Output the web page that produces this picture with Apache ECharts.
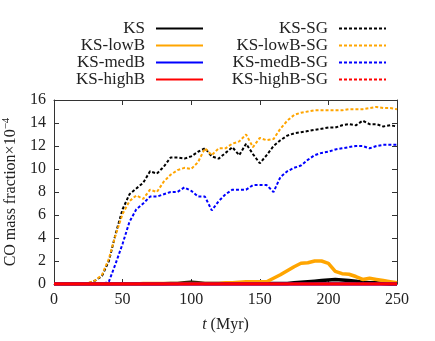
<!DOCTYPE html>
<html>
<head>
<meta charset="utf-8">
<script src="https://cdn.jsdelivr.net/npm/echarts@6/dist/echarts.min.js"></script>
<style>
  html, body { margin: 0; padding: 0; background: #fff; }
  #chart { width: 435px; height: 341px; }
</style>
</head>
<body>
<div id="chart"></div>
<script>
// time axis, Myr (every 5 Myr)
const times = [0,5,10,15,20,25,30,35,40,45,50,55,60,65,70,75,80,85,90,95,100,105,110,115,120,125,130,135,140,145,150,155,160,165,170,175,180,185,190,195,200,205,210,215,220,225,230,235,240,245,250];

const ks = [0,0,0,0,0,0,0,0,0,0.02,0.02,0.02,0.02,0.02,0.02,0.03,0.03,0.05,0.05,0.1,0.15,0.1,0.05,0.05,0.05,0.05,0.05,0.05,0.05,0.05,0.05,0.05,0.05,0.05,0.05,0.1,0.15,0.2,0.25,0.3,0.35,0.4,0.35,0.3,0.25,0.15,0.1,0.1,0.05,0,0];
const ksLowB = [0,0,0,0,0,0,0,0,0,0,0,0,0,0.05,0.05,0.05,0.05,0.05,0.05,0.05,0.05,0.05,0.05,0.05,0.05,0.1,0.1,0.15,0.2,0.2,0.2,0.2,0.5,0.8,1.15,1.5,1.8,1.85,2.0,2.0,1.8,1.1,0.9,0.85,0.65,0.4,0.5,0.4,0.3,0.2,0.1];
const ksMedB = [0,0,0,0,0,0,0,0,0,0,0,0,0,0,0,0,0,0,0,0,0,0,0,0,0,0,0,0,0,0,0,0,0,0,0,0,0,0,0,0,0,0,0,0,0,0,0,0,0,0,0];
const ksHighB = [0,0,0,0,0,0,0,0,0,0,0,0,0,0,0,0,0,0,0,0,0,0,0,0,0,0,0,0,0,0,0,0,0,0,0,0,0,0,0,0,0,0,0,0,0,0,0,0,0,0,0];

const ksSG = [0,0,0,0,0,0.05,0.3,0.7,2.0,4.4,6.5,7.8,8.3,8.8,9.8,9.6,10.2,11.0,11.0,10.9,11.1,11.5,11.8,11.1,10.9,11.4,11.9,11.2,12.2,11.3,10.5,11.2,12.0,12.5,12.9,13.1,13.2,13.3,13.4,13.5,13.6,13.6,13.8,13.9,13.8,14.2,13.9,13.9,13.7,13.8,13.7];
const ksLowBSG = [0,0,0,0,0,0.1,0.3,0.8,2.2,4.3,6.1,7.2,7.7,7.4,8.2,8.0,8.9,9.5,9.9,10.1,10.0,10.6,11.8,11.2,11.8,11.8,12.2,12.4,13.0,11.9,12.7,12.5,12.6,13.5,14.2,14.7,14.9,15.0,15.1,15.1,15.1,15.1,15.1,15.2,15.2,15.2,15.3,15.4,15.3,15.3,15.2];
const ksMedBSG = [0,0,0,0,0,0,0,0,0.2,1.8,3.5,5.4,6.5,7.0,7.6,7.6,7.8,8.0,8.0,8.4,8.1,7.6,7.6,6.4,7.2,7.8,8.2,8.2,8.2,8.6,8.6,8.6,8.0,9.3,9.8,10.1,10.3,10.8,11.2,11.4,11.5,11.7,11.8,11.9,12.0,12.0,11.8,12.0,12.1,12.1,12.1];
const ksHighBSG = [0,0,0,0,0,0,0,0,0,0,0,0,0,0,0,0,0,0,0,0,0,0,0,0,0,0,0,0,0,0,0,0,0,0,0,0,0,0,0,0,0,0,0,0,0,0,0,0,0,0,0];

const xTicks = [0, 50, 100, 150, 200, 250];
const yTicks = [0, 2, 4, 6, 8, 10, 12, 14, 16];

const font = "Liberation Serif";
const myChart = echarts.init(document.getElementById("chart"));

function pairs(vals) {
  return times.map((t, i) => [t, vals[i]]);
}

function solid(name, color, vals) {
  return {
    name: name, type: "line", data: pairs(vals), symbol: "none",
    lineStyle: { color: color, width: 3.5 }, itemStyle: { color: color },
    z: 3,
  };
}
function dashed(name, color, vals) {
  return {
    name: name, type: "line", data: pairs(vals), symbol: "none",
    lineStyle: { color: color, width: 2, type: [3, 2] }, itemStyle: { color: color },
    z: 2,
  };
}

const leftNames = ["KS", "KS-lowB", "KS-medB", "KS-highB"];
const rightNames = ["KS-SG", "KS-lowB-SG", "KS-medB-SG", "KS-highB-SG"];
const rowTops = [20, 37, 54, 71];

const legends = [];
leftNames.forEach((n, i) => legends.push({ name: n, right: 231, top: rowTops[i] }));
rightNames.forEach((n, i) => legends.push({ name: n, right: 48, top: rowTops[i] }));

const frameAxis = {
  axisLine: { show: true, onZero: false, lineStyle: { color: "#333", width: 1 } },
  axisTick: { show: true, inside: true, length: 5, lineStyle: { color: "#333" } },
  splitLine: { show: false },
};

myChart.setOption({
  animation: false,
  legend: legends.map((l) => ({
    data: [l.name],
    right: l.right,
    top: l.top,
    padding: 0,
    align: "right",
    itemWidth: 47,
    itemHeight: 14,
    selectedMode: false,
    itemStyle: { opacity: 0 },
    textStyle: { fontFamily: font, fontSize: 17, color: "#222", padding: [0, 6, 0, 0] },
  })),
  grid: { left: 54, right: 38, top: 100, bottom: 57, outerBoundsMode: "none" },
  xAxis: [
    Object.assign({
      type: "value", min: 0, max: 250, interval: 50,
      name: "{i|t} (Myr)", nameLocation: "middle", nameGap: 33,
      nameTextStyle: {
        fontFamily: font, fontSize: 16, color: "#222",
        rich: { i: { fontFamily: font, fontSize: 16, fontStyle: "italic", color: "#222" } },
      },
      axisLabel: {
        fontFamily: font, fontSize: 16, color: "#222", margin: 8,
        formatter: (v) => (xTicks.includes(v) ? String(v) : ""),
      },
    }, frameAxis),
    Object.assign({
      type: "value", min: 0, max: 250, interval: 50, position: "top",
      axisLabel: { show: false },
    }, frameAxis),
  ],
  yAxis: [
    Object.assign({
      type: "value", min: 0, max: 16, interval: 2,
      name: "CO mass fraction×10{sup|−4}", nameLocation: "middle", nameGap: 27, nameRotate: 90,
      nameTextStyle: {
        fontFamily: font, fontSize: 16, color: "#222",
        rich: { sup: { fontFamily: font, fontSize: 11, color: "#222", verticalAlign: "top", padding: [0, 0, 10, 0] } },
      },
      axisLabel: {
        fontFamily: font, fontSize: 16, color: "#222", margin: 8,
        formatter: (v) => (yTicks.includes(v) ? String(v) : ""),
      },
    }, frameAxis),
    Object.assign({
      type: "value", min: 0, max: 16, interval: 2, position: "right",
      axisLabel: { show: false },
    }, frameAxis),
  ],
  series: [
    dashed("KS-SG", "#000000", ksSG),
    dashed("KS-lowB-SG", "#FFA500", ksLowBSG),
    dashed("KS-medB-SG", "#0000FF", ksMedBSG),
    dashed("KS-highB-SG", "#FF0000", ksHighBSG),
    solid("KS", "#000000", ks),
    solid("KS-lowB", "#FFA500", ksLowB),
    solid("KS-medB", "#0000FF", ksMedB),
    solid("KS-highB", "#FF0000", ksHighB),
  ],
});

window.addEventListener("resize", () => {
  myChart.resize();
});
</script>
</body>
</html>
